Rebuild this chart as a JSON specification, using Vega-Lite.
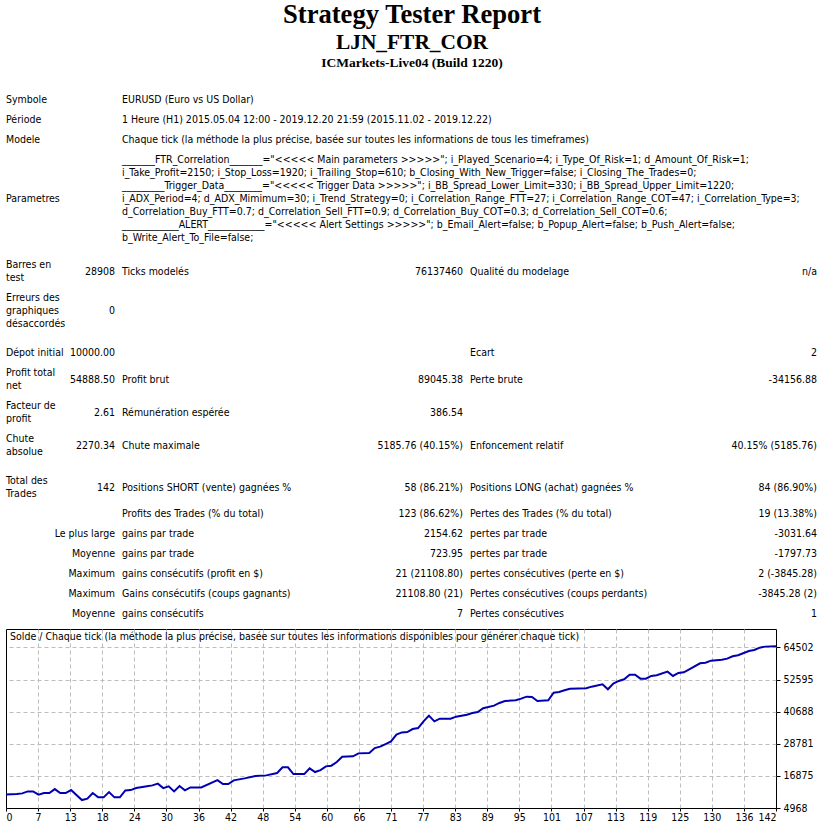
{
  "$schema": "https://vega.github.io/schema/vega-lite/v6.json",
  "background": "white",
  "padding": {"left": 1, "top": 0, "right": 0, "bottom": 0},
  "spacing": 0,
  "config": {
    "view": {"stroke": null},
    "text": {"font": "DejaVu Sans Condensed", "fontSize": 10.5, "color": "black"}
  },
  "vconcat": [
    {
      "width": 812,
      "height": 628,
      "data": {
        "values": [
          {"row": -3, "text": "Strategy Tester Report"},
          {"row": -2, "text": "LJN_FTR_COR"},
          {"row": -1, "text": "ICMarkets-Live04 (Build 1220)"},
          {"row": 0, "col": 0, "text": "Symbole"},
          {"row": 0, "col": 2, "text": "EURUSD (Euro vs US Dollar)"},
          {"row": 1, "col": 0, "text": "Période"},
          {"row": 1, "col": 2, "text": "1 Heure (H1) 2015.05.04 12:00 - 2019.12.20 21:59 (2015.11.02 - 2019.12.22)"},
          {"row": 2, "col": 0, "text": "Modele"},
          {"row": 2, "col": 2, "text": "Chaque tick (la méthode la plus précise, basée sur toutes les informations de tous les timeframes)"},
          {"row": 3, "col": 0, "text": "Parametres"},
          {"row": 3, "col": 2, "text": [
            "_______FTR_Correlation_______=\"<<<<< Main parameters >>>>>\"; i_Played_Scenario=4; i_Type_Of_Risk=1; d_Amount_Of_Risk=1;",
            "i_Take_Profit=2150; i_Stop_Loss=1920; i_Trailing_Stop=610; b_Closing_With_New_Trigger=false; i_Closing_The_Trades=0;",
            "_________Trigger_Data________=\"<<<<< Trigger Data >>>>>\"; i_BB_Spread_Lower_Limit=330; i_BB_Spread_Upper_Limit=1220;",
            "i_ADX_Period=4; d_ADX_Mimimum=30; i_Trend_Strategy=0; i_Correlation_Range_FTT=27; i_Correlation_Range_COT=47; i_Correlation_Type=3;",
            "d_Correlation_Buy_FTT=0.7; d_Correlation_Sell_FTT=0.9; d_Correlation_Buy_COT=0.3; d_Correlation_Sell_COT=0.6;",
            "____________ALERT____________=\"<<<<< Alert Settings >>>>>\"; b_Email_Alert=false; b_Popup_Alert=false; b_Push_Alert=false;",
            "b_Write_Alert_To_File=false;"
          ]},
          {"row": 4, "col": 0, "text": ["Barres en", "test"]},
          {"row": 4, "col": 1, "text": "28908"},
          {"row": 4, "col": 2, "text": "Ticks modelés"},
          {"row": 4, "col": 3, "text": "76137460"},
          {"row": 4, "col": 4, "text": "Qualité du modelage"},
          {"row": 4, "col": 5, "text": "n/a"},
          {"row": 5, "col": 0, "text": ["Erreurs des", "graphiques", "désaccordés"]},
          {"row": 5, "col": 1, "text": "0"},
          {"row": 6, "col": 0, "text": "Dépot initial"},
          {"row": 6, "col": 1, "text": "10000.00"},
          {"row": 6, "col": 4, "text": "Ecart"},
          {"row": 6, "col": 5, "text": "2"},
          {"row": 7, "col": 0, "text": ["Profit total", "net"]},
          {"row": 7, "col": 1, "text": "54888.50"},
          {"row": 7, "col": 2, "text": "Profit brut"},
          {"row": 7, "col": 3, "text": "89045.38"},
          {"row": 7, "col": 4, "text": "Perte brute"},
          {"row": 7, "col": 5, "text": "-34156.88"},
          {"row": 8, "col": 0, "text": ["Facteur de", "profit"]},
          {"row": 8, "col": 1, "text": "2.61"},
          {"row": 8, "col": 2, "text": "Rémunération espérée"},
          {"row": 8, "col": 3, "text": "386.54"},
          {"row": 9, "col": 0, "text": ["Chute", "absolue"]},
          {"row": 9, "col": 1, "text": "2270.34"},
          {"row": 9, "col": 2, "text": "Chute maximale"},
          {"row": 9, "col": 3, "text": "5185.76 (40.15%)"},
          {"row": 9, "col": 4, "text": "Enfoncement relatif"},
          {"row": 9, "col": 5, "text": "40.15% (5185.76)"},
          {"row": 10, "col": 0, "text": ["Total des", "Trades"]},
          {"row": 10, "col": 1, "text": "142"},
          {"row": 10, "col": 2, "text": "Positions SHORT (vente) gagnées %"},
          {"row": 10, "col": 3, "text": "58 (86.21%)"},
          {"row": 10, "col": 4, "text": "Positions LONG (achat) gagnées %"},
          {"row": 10, "col": 5, "text": "84 (86.90%)"},
          {"row": 11, "col": 2, "text": "Profits des Trades (% du total)"},
          {"row": 11, "col": 3, "text": "123 (86.62%)"},
          {"row": 11, "col": 4, "text": "Pertes des Trades (% du total)"},
          {"row": 11, "col": 5, "text": "19 (13.38%)"},
          {"row": 12, "col": 1, "text": "Le plus large"},
          {"row": 12, "col": 2, "text": "gains par trade"},
          {"row": 12, "col": 3, "text": "2154.62"},
          {"row": 12, "col": 4, "text": "pertes par trade"},
          {"row": 12, "col": 5, "text": "-3031.64"},
          {"row": 13, "col": 1, "text": "Moyenne"},
          {"row": 13, "col": 2, "text": "gains par trade"},
          {"row": 13, "col": 3, "text": "723.95"},
          {"row": 13, "col": 4, "text": "pertes par trade"},
          {"row": 13, "col": 5, "text": "-1797.73"},
          {"row": 14, "col": 1, "text": "Maximum"},
          {"row": 14, "col": 2, "text": "gains consécutifs (profit en $)"},
          {"row": 14, "col": 3, "text": "21 (21108.80)"},
          {"row": 14, "col": 4, "text": "pertes consécutives (perte en $)"},
          {"row": 14, "col": 5, "text": "2 (-3845.28)"},
          {"row": 15, "col": 1, "text": "Maximum"},
          {"row": 15, "col": 2, "text": "Gains consécutifs (coups gagnants)"},
          {"row": 15, "col": 3, "text": "21108.80 (21)"},
          {"row": 15, "col": 4, "text": "Pertes consécutives (coups perdants)"},
          {"row": 15, "col": 5, "text": "-3845.28 (2)"},
          {"row": 16, "col": 1, "text": "Moyenne"},
          {"row": 16, "col": 2, "text": "gains consécutifs"},
          {"row": 16, "col": 3, "text": "7"},
          {"row": 16, "col": 4, "text": "Pertes consécutives"},
          {"row": 16, "col": 5, "text": "1"}
        ]
      },
      "encoding": {
        "y": {
          "field": "row",
          "type": "quantitative",
          "scale": {
            "domain": [-3, -2, -1, 0, 1, 2, 3, 4, 5, 6, 7, 8, 9, 10, 11, 12, 13, 14, 15, 16],
            "range": [15, 43, 62.5, 100, 120, 140, 199, 271.5, 311, 353, 379.5, 412.5, 445.5, 487.5, 514, 534, 554, 574, 594, 614],
            "zero": false,
            "nice": false
          },
          "axis": null
        },
        "text": {"field": "text", "type": "nominal"}
      },
      "layer": [
        {
          "transform": [{"filter": "datum.row == -3"}],
          "mark": {"type": "text", "font": "Liberation Serif", "fontWeight": "bold", "fontSize": 26.6, "baseline": "middle"}
        },
        {
          "transform": [{"filter": "datum.row == -2"}],
          "mark": {"type": "text", "font": "Liberation Serif", "fontWeight": "bold", "fontSize": 21.4, "baseline": "middle"}
        },
        {
          "transform": [{"filter": "datum.row == -1"}],
          "mark": {"type": "text", "font": "Liberation Serif", "fontWeight": "bold", "fontSize": 13.5, "baseline": "middle"}
        },
        {
          "transform": [{"filter": "datum.row >= 0 && datum.col % 2 == 0"}],
          "mark": {
            "type": "text",
            "align": "left",
            "baseline": "middle",
            "lineHeight": 13,
            "dy": {"expr": "isArray(datum.text) ? -6.5 * (length(datum.text) - 1) : 0"}
          },
          "encoding": {
            "x": {
              "field": "col",
              "type": "quantitative",
              "scale": {"domain": [0, 1, 2, 3, 4, 5], "range": [0, 109, 116, 457, 464, 811], "zero": false, "nice": false},
              "axis": null
            }
          }
        },
        {
          "transform": [{"filter": "datum.row >= 0 && datum.col % 2 == 1"}],
          "mark": {"type": "text", "align": "right", "baseline": "middle", "lineHeight": 13},
          "encoding": {
            "x": {
              "field": "col",
              "type": "quantitative",
              "scale": {"domain": [0, 1, 2, 3, 4, 5], "range": [0, 109, 116, 457, 464, 811], "zero": false, "nice": false},
              "axis": null
            }
          }
        }
      ]
    },
    {
      "width": 770,
      "height": 179,
      "view": {"stroke": "black", "strokeWidth": 1},
      "encoding": {
        "x": {
          "type": "quantitative",
          "scale": {"domain": [0, 142], "zero": false, "nice": false},
          "axis": {
            "title": null,
            "orient": "bottom",
            "values": [0, 5.9167, 11.8333, 17.75, 23.6667, 29.5833, 35.5, 41.4167, 47.3333, 53.25, 59.1667, 65.0833, 71, 76.9167, 82.8333, 88.75, 94.6667, 100.5833, 106.5, 112.4167, 118.3333, 124.25, 130.1667, 136.0833, 142],
            "labelExpr": "'' + [0,7,13,18,24,30,36,42,48,54,60,66,71,77,83,89,95,101,107,113,119,125,130,136,142][round(datum.value * 24 / 142)]",
            "labelFlush": true,
            "labelOverlap": false,
            "labelFont": "DejaVu Sans Condensed",
            "labelFontSize": 10.5,
            "labelColor": "black",
            "labelPadding": 1,
            "domain": false,
            "tickSize": 3,
            "tickColor": "black",
            "grid": true,
            "gridColor": "#bdbdbd",
            "gridDash": [4, 3],
            "gridOpacity": {"condition": {"test": "datum.value < 1 || datum.value > 141", "value": 0}, "value": 1}
          }
        },
        "y": {
          "type": "quantitative",
          "scale": {"domain": [4968, 71323], "zero": false, "nice": false},
          "axis": {
            "title": null,
            "orient": "right",
            "values": [4968, 16875, 28781, 40688, 52595, 64502],
            "format": "d",
            "labelOverlap": false,
            "labelFont": "DejaVu Sans Condensed",
            "labelFontSize": 10.5,
            "labelColor": "black",
            "labelPadding": 3,
            "domain": false,
            "tickSize": 4,
            "tickColor": "black",
            "grid": true,
            "gridColor": "#bdbdbd",
            "gridDash": [4, 3],
            "gridOpacity": {"condition": {"test": "datum.value < 5000", "value": 0}, "value": 1}
          }
        }
      },
      "layer": [
        {
          "data": {
            "values": [
              {"trade": 0, "balance": 10000}, {"trade": 2, "balance": 10130}, {"trade": 3, "balance": 10390},
              {"trade": 4, "balance": 11130}, {"trade": 5, "balance": 11130}, {"trade": 6, "balance": 9910},
              {"trade": 7, "balance": 10500}, {"trade": 8, "balance": 10500}, {"trade": 9, "balance": 11980},
              {"trade": 10, "balance": 10500}, {"trade": 11, "balance": 10500}, {"trade": 12, "balance": 11610},
              {"trade": 14, "balance": 7910}, {"trade": 15, "balance": 8430}, {"trade": 16, "balance": 10500},
              {"trade": 17, "balance": 8910}, {"trade": 18, "balance": 8910}, {"trade": 19, "balance": 10870},
              {"trade": 20, "balance": 8910}, {"trade": 21, "balance": 8910}, {"trade": 22, "balance": 11500},
              {"trade": 23, "balance": 11610}, {"trade": 24, "balance": 12350}, {"trade": 26, "balance": 12990},
              {"trade": 27, "balance": 13350}, {"trade": 28, "balance": 13990}, {"trade": 29, "balance": 12350},
              {"trade": 30, "balance": 12990}, {"trade": 31, "balance": 11130}, {"trade": 32, "balance": 13100},
              {"trade": 33, "balance": 11500}, {"trade": 34, "balance": 12610}, {"trade": 36, "balance": 12610},
              {"trade": 39, "balance": 15320}, {"trade": 40, "balance": 13840}, {"trade": 41, "balance": 13840},
              {"trade": 42, "balance": 15210}, {"trade": 44, "balance": 15950}, {"trade": 46, "balance": 16800},
              {"trade": 48, "balance": 17060}, {"trade": 50, "balance": 17920}, {"trade": 51, "balance": 20030},
              {"trade": 52, "balance": 20030}, {"trade": 53, "balance": 17540}, {"trade": 55, "balance": 17540},
              {"trade": 56, "balance": 19660}, {"trade": 57, "balance": 18290}, {"trade": 58, "balance": 19030},
              {"trade": 59, "balance": 20400}, {"trade": 60, "balance": 20660}, {"trade": 61, "balance": 21990},
              {"trade": 62, "balance": 23990}, {"trade": 64, "balance": 24110}, {"trade": 65, "balance": 25220},
              {"trade": 67, "balance": 25330}, {"trade": 68, "balance": 27180}, {"trade": 69, "balance": 27700},
              {"trade": 70, "balance": 28670}, {"trade": 71, "balance": 29670}, {"trade": 72, "balance": 32150},
              {"trade": 73, "balance": 33000}, {"trade": 74, "balance": 33110}, {"trade": 75, "balance": 34230},
              {"trade": 76, "balance": 34600}, {"trade": 77, "balance": 37080}, {"trade": 78, "balance": 39190},
              {"trade": 79, "balance": 37080}, {"trade": 80, "balance": 38080}, {"trade": 82, "balance": 38080},
              {"trade": 83, "balance": 38820}, {"trade": 85, "balance": 39570}, {"trade": 86, "balance": 40200},
              {"trade": 87, "balance": 40570}, {"trade": 88, "balance": 41940}, {"trade": 90, "balance": 42900},
              {"trade": 91, "balance": 43900}, {"trade": 92, "balance": 44640}, {"trade": 94, "balance": 44900},
              {"trade": 95, "balance": 45500}, {"trade": 96, "balance": 46240}, {"trade": 97, "balance": 46130},
              {"trade": 98, "balance": 44640}, {"trade": 100, "balance": 44900}, {"trade": 101, "balance": 47720},
              {"trade": 102, "balance": 47980}, {"trade": 103, "balance": 48610}, {"trade": 104, "balance": 49200},
              {"trade": 107, "balance": 49350}, {"trade": 108, "balance": 49950}, {"trade": 110, "balance": 50840},
              {"trade": 111, "balance": 48980}, {"trade": 112, "balance": 51060}, {"trade": 113, "balance": 52060},
              {"trade": 114, "balance": 52690}, {"trade": 115, "balance": 54390}, {"trade": 116, "balance": 54390},
              {"trade": 117, "balance": 52910}, {"trade": 118, "balance": 52910}, {"trade": 119, "balance": 53910},
              {"trade": 120, "balance": 54170}, {"trade": 122, "balance": 55510}, {"trade": 123, "balance": 53910},
              {"trade": 124, "balance": 55020}, {"trade": 125, "balance": 55280}, {"trade": 126, "balance": 56400},
              {"trade": 128, "balance": 58620}, {"trade": 129, "balance": 58840}, {"trade": 130, "balance": 59580},
              {"trade": 132, "balance": 59950}, {"trade": 133, "balance": 60330}, {"trade": 134, "balance": 61210},
              {"trade": 135, "balance": 61590}, {"trade": 137, "balance": 63180}, {"trade": 138, "balance": 63550},
              {"trade": 139, "balance": 64400}, {"trade": 140, "balance": 64790}, {"trade": 142, "balance": 64888.5}
            ]
          },
          "mark": {"type": "line", "color": "#0000b0", "strokeWidth": 2},
          "encoding": {
            "x": {"field": "trade", "type": "quantitative"},
            "y": {"field": "balance", "type": "quantitative"}
          }
        },
        {
          "data": {
            "values": [
              {"label": "Solde / Chaque tick (la méthode la plus précise, basée sur toutes les informations disponibles pour générer chaque tick)"}
            ]
          },
          "mark": {"type": "text", "align": "left", "baseline": "middle", "dx": 4, "dy": 8},
          "encoding": {
            "x": {"datum": 0, "type": "quantitative"},
            "y": {"datum": 71323, "type": "quantitative"},
            "text": {"field": "label", "type": "nominal"}
          }
        }
      ]
    }
  ]
}
